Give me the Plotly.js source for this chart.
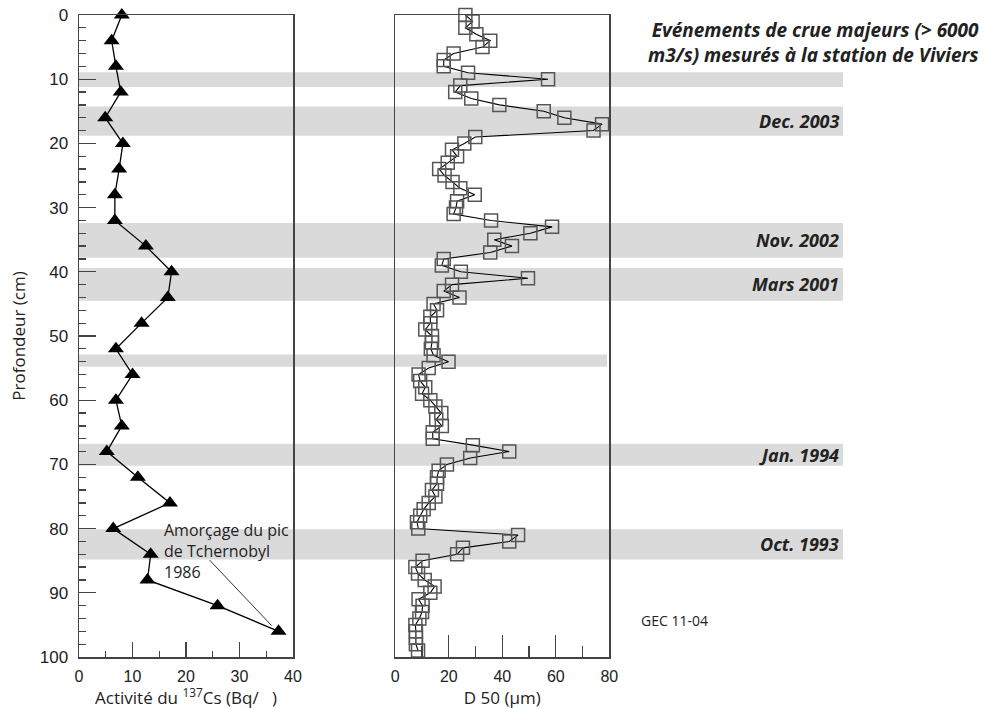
<!DOCTYPE html>
<html>
<head>
<meta charset="utf-8">
<script src="https://cdn.plot.ly/plotly-3.0.1.min.js"></script>
<style>html,body{margin:0;padding:0;background:#fff;}#chart{width:985px;height:709px;}</style>
</head>
<body>
<div id="chart"></div>
<script>
// 137Cs activity profile (left panel)
const csDepth = [0,4,8,12,16,20,24,28,32,36,40,44,48,52,56,60,64,68,72,76,80,84,88,92,96];
const csActivity = [8.0,6.1,6.9,7.8,4.9,8.2,7.5,6.7,6.7,12.5,17.3,16.6,11.7,6.9,10.0,6.9,8.0,5.2,11.0,17.0,6.4,13.4,12.8,25.9,37.3];

// D50 grain size profile (right panel)
const d50Depth = [0,1,2,3,4,5,6,7,8,9,10,11,12,13,14,15,16,17,18,19,20,21,22,23,24,25,26,27,28,29,30,31,32,33,34,35,36,37,38,39,40,41,42,43,44,45,46,47,48,49,50,51,52,53,54,55,56,57,58,59,60,61,62,63,64,65,66,67,68,69,70,71,72,73,74,75,76,77,78,79,80,81,82,83,84,85,86,87,88,89,90,91,92,93,94,95,96,97,98,99];
const d50Value = [26.2,28.9,26.2,30.3,35.5,32.6,21.8,18.1,18.1,27.2,57.1,24.3,22.4,28.4,38.9,55.5,63.2,77.3,74.1,29.9,
                  25.8,21.2,23.1,19.6,16.4,18.4,21.4,24.3,29.7,23.1,22.7,21.8,35.8,58.6,50.5,37.0,43.6,35.5,18.1,17.4,
                  24.5,49.6,21.2,18.1,24.0,14.3,15.6,13.1,13.1,11.2,13.7,13.7,13.3,14.3,19.9,12.5,8.7,9.3,11.2,10.0,
                  13.1,15.0,17.2,15.3,17.4,14.0,14.0,29.0,42.6,28.0,19.3,16.2,15.6,15.6,13.7,15.0,12.5,10.6,9.3,8.1,
                  8.6,45.9,42.6,25.3,23.1,10.2,7.5,8.5,11.0,14.7,13.1,8.7,10.2,10.0,9.0,7.5,7.7,7.7,7.7,8.5];

// Major flood events (grey bands, depth in cm)
const floodTop    = [8.9, 14.25, 32.4, 39.4, 52.9, 66.8, 80.1];
const floodBottom = [11.2, 18.8, 37.8, 44.5, 54.8, 70.2, 84.8];
const floodLabel  = ["", "Dec. 2003", "Nov. 2002", "Mars 2001", "", "Jan. 1994", "Oct. 1993"];
const floodShort  = [false, false, false, false, true, false, false];

const W = 985;
const leftX0 = 79/W, leftX1 = 293/W, rightX0 = 395.3/W, rightX1 = 609.3/W;
const bandEnd = 843/W, bandEndShort = 607/W;

const txtFont = "Liberation Sans, Arial, sans-serif";
const boldItal = "Open Sans, Liberation Sans, sans-serif";

const traces = [
  {
    x: csActivity, y: csDepth, xaxis: 'x', yaxis: 'y',
    mode: 'lines+markers', type: 'scatter',
    line: {color: '#000', width: 1.3},
    marker: {symbol: 'triangle-up', size: 14, color: '#000'},
    cliponaxis: false, hoverinfo: 'x+y'
  },
  {
    x: d50Value, y: d50Depth, xaxis: 'x2', yaxis: 'y2',
    mode: 'lines+markers', type: 'scatter',
    line: {color: '#000', width: 1.1},
    marker: {symbol: 'square-open', size: 13, color: '#555', line: {width: 1.5, color: '#555'}},
    cliponaxis: false, hoverinfo: 'x+y'
  }
];

const shapes = [];
const annotations = [];
for (let i = 0; i < floodTop.length; i++) {
  shapes.push({
    type: 'rect', layer: 'below', xref: 'paper', yref: 'y',
    x0: leftX0, x1: floodShort[i] ? bandEndShort : bandEnd,
    y0: floodTop[i], y1: floodBottom[i],
    fillcolor: '#dadada', line: {width: 0}
  });
  if (floodLabel[i]) {
    annotations.push({
      xref: 'paper', yref: 'y', x: 841/W, y: (floodTop[i] + floodBottom[i]) / 2,
      xanchor: 'right', yanchor: 'middle', showarrow: false,
      text: '<b><i>' + floodLabel[i] + '</i></b>',
      font: {family: boldItal, size: 18, color: '#222'}
    });
  }
}

// connector line for the Tchernobyl note
shapes.push({
  type: 'line', xref: 'x', yref: 'y', layer: 'above',
  x0: 24.4, y0: 84.9, x1: 36.0, y1: 95.1,
  line: {color: '#333', width: 1}
});

annotations.push({
  xref: 'x', yref: 'y', x: 15.5, y: 83.5, xanchor: 'left', yanchor: 'middle',
  align: 'left', showarrow: false,
  text: 'Amorçage du pic<br>de Tchernobyl<br>1986',
  font: {family: boldItal, size: 16, color: '#222'}
});
annotations.push({
  xref: 'paper', yref: 'paper', x: 981/W, y: 1.0, yshift: 0,
  xanchor: 'right', yanchor: 'top', align: 'right', showarrow: false,
  text: '<b><i>Evénements de crue majeurs (> 6000<br>m3/s) mesurés à la station de Viviers</i></b>',
  font: {family: boldItal, size: 19, color: '#222'}
});
annotations.push({
  xref: 'paper', yref: 'y', x: 639/W, y: 94.3, xanchor: 'left', yanchor: 'middle',
  showarrow: false, text: 'GEC 11-04',
  font: {family: boldItal, size: 14, color: '#222'}
});

const axLine = '#444';
const layout = {
  width: 985, height: 709,
  margin: {l: 0, r: 0, t: 15, b: 52},
  paper_bgcolor: '#fff', plot_bgcolor: 'rgba(0,0,0,0)',
  showlegend: false,
  font: {family: txtFont, color: '#222'},
  xaxis: {
    domain: [leftX0, leftX1], anchor: 'y', range: [0, 40],
    showline: true, mirror: true, linecolor: axLine, linewidth: 1.5,
    showgrid: false, zeroline: false,
    ticks: 'inside', tickcolor: axLine, ticklen: 15, tickwidth: 1.3, dtick: 10, tick0: 0,
    minor: {dtick: 5, ticks: 'inside', ticklen: 6, tickcolor: axLine, tickwidth: 1.3},
    tickfont: {size: 16, family: txtFont, color: '#222'},
    ticklabelstandoff: 4,
    title: {text: 'Activité du <sup>137</sup>Cs (Bq/   )', font: {size: 17, family: boldItal, color: '#222'}, standoff: 9}
  },
  yaxis: {
    domain: [0, 1], anchor: 'x', range: [100, 0],
    showline: true, mirror: true, linecolor: axLine, linewidth: 1.5,
    showgrid: false, zeroline: false,
    ticks: 'inside', tickcolor: axLine, ticklen: 17, tickwidth: 1.3, dtick: 10, tick0: 0,
    minor: {dtick: 2, ticks: 'inside', ticklen: 7, tickcolor: axLine, tickwidth: 1.3},
    tickfont: {size: 17, family: txtFont, color: '#222'},
    ticklabelstandoff: 6,
    title: {text: 'Profondeur (cm)', font: {size: 17, family: boldItal, color: '#222'}, standoff: 10}
  },
  xaxis2: {
    domain: [rightX0, rightX1], anchor: 'y2', range: [0, 80],
    showline: true, mirror: true, linecolor: axLine, linewidth: 1.5,
    showgrid: false, zeroline: false,
    ticks: 'inside', tickcolor: axLine, ticklen: 22, tickwidth: 1.3, dtick: 20, tick0: 0,
    minor: {dtick: 10, ticks: 'inside', ticklen: 11, tickcolor: axLine, tickwidth: 1.3},
    tickfont: {size: 16, family: txtFont, color: '#222'},
    ticklabelstandoff: 4,
    title: {text: 'D 50 (µm)', font: {size: 17, family: boldItal, color: '#222'}, standoff: 9}
  },
  yaxis2: {
    domain: [0, 1], anchor: 'x2', range: [100, 0],
    showline: true, mirror: true, linecolor: axLine, linewidth: 1.5,
    showgrid: false, zeroline: false, showticklabels: false, ticks: ''
  },
  shapes: shapes,
  annotations: annotations
};

Plotly.newPlot('chart', traces, layout, {staticPlot: true, displayModeBar: false});
</script>
</body>
</html>
